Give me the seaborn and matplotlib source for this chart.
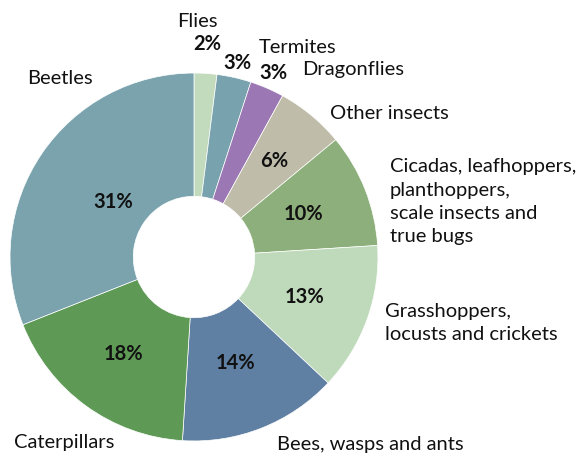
import numpy as np
import matplotlib
matplotlib.use("Agg")
import matplotlib.pyplot as plt
import seaborn as sns

# data (clockwise from 12 o'clock)
groups = ["Flies", "Termites", "Dragonflies", "Other insects",
          "Cicadas, leafhoppers,\nplanthoppers,\nscale insects and\ntrue bugs",
          "Grasshoppers,\nlocusts and crickets",
          "Bees, wasps and ants", "Caterpillars", "Beetles"]
shares = [2, 3, 3, 6, 10, 13, 14, 18, 31]
colors = ["#c2dbbd", "#78a2ad", "#9b78b4", "#bfbcaa", "#8caf7b",
          "#bfdabb", "#5f80a3", "#5e9a55", "#7aa3ae"]

# layout: radius of the % label per slice, and name label anchors (data units)
pct_radius = [1.16, 1.08, 1.09, 0.68, 0.64, 0.64, 0.62, 0.65, 0.53]
name_pos = [(0.02, 1.28, "center"), (0.35, 1.14, "left"), (0.59, 1.02, "left"),
            (0.74, 0.78, "left"), (1.065, 0.30, "left"), (1.04, -0.36, "left"),
            (0.45, -1.02, "left"), (-0.98, -1.01, "left"), (-0.73, 0.97, "center")]

sns.set_theme(style="white")
plt.rcParams["font.family"] = ["Lato", "DejaVu Sans"]

fig = plt.figure(figsize=(5.85, 4.59), dpi=100)
ax = fig.add_axes([0, 0, 1, 1])

wedges, _ = ax.pie(shares, colors=colors, startangle=90, counterclock=False,
                   radius=1.0, wedgeprops=dict(width=0.67, edgecolor="white", linewidth=0.5))

for w, val, r, (nx, ny, ha), name in zip(wedges, shares, pct_radius, name_pos, groups):
    mid = np.deg2rad((w.theta1 + w.theta2) / 2)
    ax.text(r * np.cos(mid), r * np.sin(mid), f"{val}%", ha="center", va="center",
            fontsize=14.5, fontweight="bold", color="#111111")
    ax.text(nx, ny, name, ha=ha, va="center", fontsize=14.5, color="#111111",
            linespacing=1.45)

ax.set_xlim(-1.054, 2.125)
ax.set_ylim(-1.098, 1.397)
ax.set_aspect("equal")
ax.axis("off")

fig.savefig("out.png", dpi=100)
